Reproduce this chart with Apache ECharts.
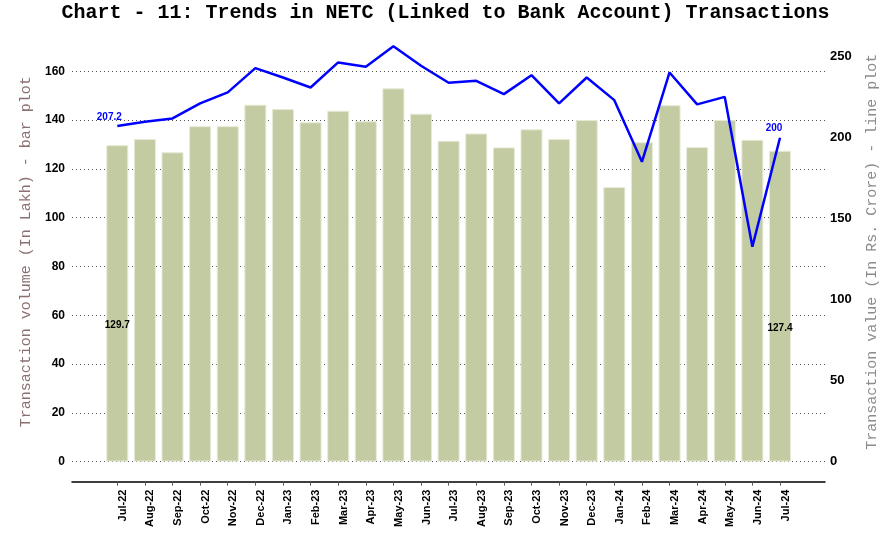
<!DOCTYPE html>
<html>
<head>
<meta charset="utf-8">
<script src="https://cdn.jsdelivr.net/npm/echarts@6/dist/echarts.min.js"></script>
<style>html,body{margin:0;padding:0;background:#fff}#c{width:891px;height:547px}</style>
</head>
<body>
<div id="c"></div>
<script>
const months = ['Jul-22','Aug-22','Sep-22','Oct-22','Nov-22','Dec-22','Jan-23','Feb-23','Mar-23','Apr-23','May-23','Jun-23','Jul-23','Aug-23','Sep-23','Oct-23','Nov-23','Dec-23','Jan-24','Feb-24','Mar-24','Apr-24','May-24','Jun-24','Jul-24'];
const volumeLakh = [129.7,132.2,126.8,137.5,137.5,146.3,144.5,139.1,143.8,139.5,153.0,142.6,131.5,134.5,128.8,136.2,132.2,140.0,112.5,130.9,146.1,128.9,140.0,131.9,127.4];
const valueCrore = [207.2,209.8,211.9,221.2,228.0,243.0,237.2,231.0,246.5,243.8,256.5,244.4,233.9,235.1,226.9,238.6,221.2,237.2,223.2,185.1,240.3,220.6,225.2,132.7,200.0];
const leftTicks = [0,20,40,60,80,100,120,140,160];
const rightTicks = [0,50,100,150,200,250];

const idx = months.map((m,i)=>i);
const last = months.length - 1;

const barData = volumeLakh.map((v,i)=>{
  const item = {value:[i,v]};
  if (i===0 || i===last) item.label = {show:true};
  return item;
});
const lineData = valueCrore.map((v,i)=>{
  const item = {value:[i,v]};
  if (i===0) item.label = {show:true, offset:[-8,0]};
  if (i===last) item.label = {show:true, offset:[-6,0]};
  return item;
});

const chart = echarts.init(document.getElementById('c'), null, {renderer:'canvas'});
chart.setOption({
  animation:false,
  backgroundColor:'#ffffff',
  title:{
    text:'Chart - 11: Trends in NETC (Linked to Bank Account) Transactions',
    left:'center', top:-2,
    textStyle:{fontFamily:'Liberation Mono, Courier New, monospace', fontWeight:'bold', fontSize:20, color:'#000'}
  },
  grid:{left:72, right:66, top:42, bottom:85.4, containLabel:false},
  xAxis:{
    type:'value', min:-1.64, max:25.63, offset:20,
    axisLine:{show:true, onZero:false, lineStyle:{color:'#000', width:1.5}},
    axisTick:{show:true, length:4, customValues:idx, lineStyle:{color:'#555'}},
    splitLine:{show:false},
    axisLabel:{
      customValues:idx, rotate:90, margin:8, verticalAlign:'top',
      formatter:(v)=>months[Math.round(v)] || '',
      fontFamily:'Liberation Sans, Arial', fontWeight:'bold', fontSize:11, color:'#000'
    }
  },
  yAxis:[
    {
      type:'value', min:0, max:172, interval:20,
      name:'Transaction volume (In Lakh) - bar plot',
      nameLocation:'middle', nameGap:38, nameRotate:90,
      nameTextStyle:{fontFamily:'Liberation Mono, Courier New, monospace', fontSize:15, color:'#8a7070'},
      axisLine:{show:false}, axisTick:{show:false},
      axisLabel:{showMaxLabel:false, margin:7, fontFamily:'Liberation Sans, Arial', fontWeight:'bold', fontSize:12, color:'#000'},
      splitLine:{show:true, showMaxLine:false, lineStyle:{color:'#555', type:[1,3], width:1}}
    },
    {
      type:'value', min:0, max:259.1, interval:50,
      name:'Transaction value (In Rs. Crore) - line plot',
      nameLocation:'middle', nameGap:40, nameRotate:90,
      nameTextStyle:{fontFamily:'Liberation Mono, Courier New, monospace', fontSize:15, color:'#8c8c8c'},
      axisLine:{show:false}, axisTick:{show:false},
      axisLabel:{showMaxLabel:false, margin:5, fontFamily:'Liberation Sans, Arial', fontWeight:'bold', fontSize:13, color:'#000'},
      splitLine:{show:false}
    }
  ],
  series:[
    {
      type:'bar', yAxisIndex:0, data:barData, barWidth:22,
      itemStyle:{color:'#c2cba1', borderColor:'#e6ead6', borderWidth:1},
      label:{show:false, position:'inside', offset:[0,22], fontFamily:'Liberation Sans, Arial', fontWeight:'bold', fontSize:10, color:'#000'}
    },
    {
      type:'line', yAxisIndex:1, data:lineData, symbol:'circle', symbolSize:0, showSymbol:true, clip:false,
      itemStyle:{color:'#0000ff'},
      lineStyle:{color:'#0000ff', width:2.5},
      label:{show:false, position:'top', distance:4, fontFamily:'Liberation Sans, Arial', fontWeight:'bold', fontSize:10, color:'#0000ff'}
    }
  ]
});
</script>
</body>
</html>
